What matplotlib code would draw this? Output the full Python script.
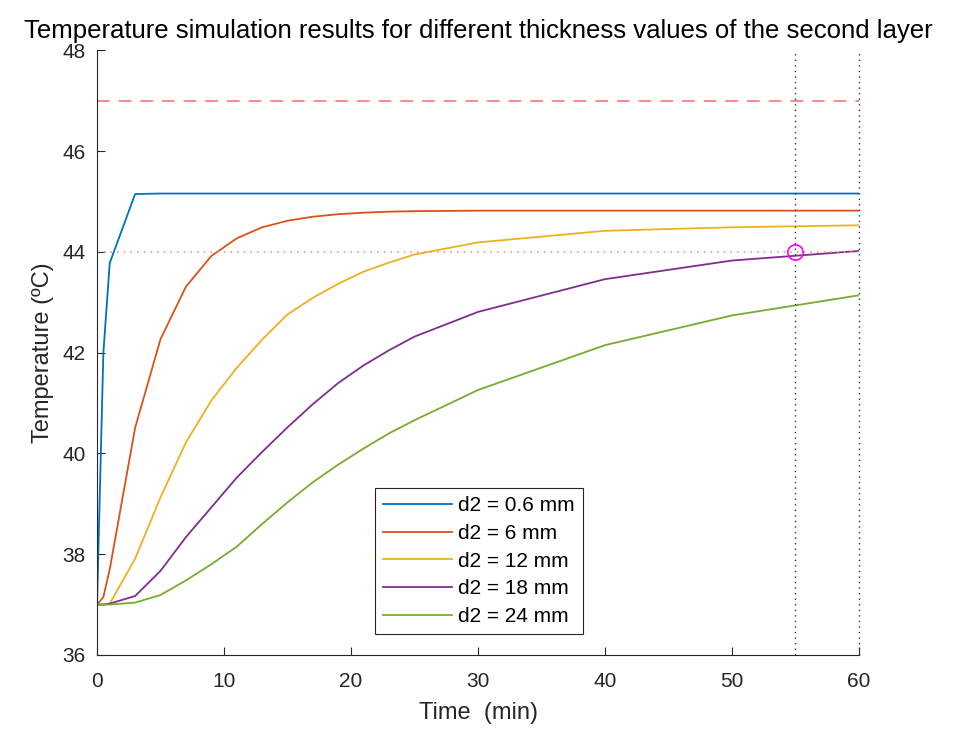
import matplotlib
matplotlib.use("Agg")
import matplotlib.pyplot as plt

# ============================================
# DATA
# ============================================
t_fast = [0, 0.5, 1, 3, 5, 10, 20, 30, 40, 50, 60]
T_d06 = [37.0, 42.0, 43.78, 45.15, 45.16, 45.16, 45.16, 45.16, 45.16, 45.16, 45.16]

t_grid = [0, 0.5, 1, 3, 5, 7, 9, 11, 13, 15, 17, 19, 21, 23, 25, 30, 40, 50, 60]
T_d6 = [37.0, 37.15, 37.7, 40.51, 42.27, 43.31, 43.92, 44.27, 44.49, 44.62, 44.70,
        44.75, 44.78, 44.80, 44.81, 44.82, 44.82, 44.82, 44.82]
T_d12 = [37.0, 37.0, 37.02, 37.91, 39.13, 40.22, 41.05, 41.7, 42.26, 42.76, 43.09,
         43.37, 43.61, 43.79, 43.95, 44.19, 44.42, 44.49, 44.53]
T_d18 = [37.0, 37.0, 37.02, 37.17, 37.67, 38.34, 38.93, 39.52, 40.03, 40.52, 40.98,
         41.40, 41.75, 42.05, 42.32, 42.81, 43.46, 43.83, 44.02]
T_d24 = [37.0, 37.0, 37.0, 37.04, 37.19, 37.48, 37.8, 38.15, 38.6, 39.03, 39.43,
         39.78, 40.1, 40.4, 40.66, 41.26, 42.15, 42.74, 43.14]

labels = ["d2 = 0.6 mm", "d2 = 6 mm", "d2 = 12 mm", "d2 = 18 mm", "d2 = 24 mm"]
colors = ["#0072BD", "#D95319", "#EDB120", "#7E2F8E", "#77AC30"]

limit_temp = 47
target_temp = 44
target_time = 55
end_time = 60

# ============================================
# PLOT
# ============================================
plt.rcParams['font.family'] = ['Liberation Sans', 'DejaVu Sans']
axis_color = "#262626"

fig = plt.figure(figsize=(9.54, 7.4), dpi=100)
ax = fig.add_axes([0.1017, 0.1149, 0.7987, 0.8169])

series = [(t_fast, T_d06), (t_grid, T_d6), (t_grid, T_d12), (t_grid, T_d18), (t_grid, T_d24)]
for (tt, TT), lab, col in zip(series, labels, colors):
    ax.plot(tt, TT, color=col, linewidth=1.3, label=lab)

ax.axhline(limit_temp, color="#FF7F7F", linestyle=(0, (7, 5)), linewidth=1.3)
ax.axhline(target_temp, color="#FF9090", linestyle=(0, (1, 3)), linewidth=1.2)
ax.axvline(target_time, color="#333333", linestyle=(0, (1, 3)), linewidth=1.0)
ax.axvline(end_time, color="#333333", linestyle=(0, (1, 3)), linewidth=1.0, clip_on=False)
ax.plot([target_time], [target_temp], marker='o', markersize=11, markerfacecolor='none',
        markeredgecolor='#FF00FF', markeredgewidth=1.2, linestyle='none')

ax.set_xlim(0, 60)
ax.set_ylim(36, 48)
ax.set_xticks(range(0, 61, 10))
ax.set_yticks(range(36, 49, 2))

for side in ['top', 'right']:
    ax.spines[side].set_visible(False)
for side in ['left', 'bottom']:
    ax.spines[side].set_color(axis_color)
    ax.spines[side].set_linewidth(0.8)
ax.tick_params(direction='in', length=6, width=0.8, colors=axis_color, labelsize=15)
ax.tick_params(axis='x', pad=12)
ax.tick_params(axis='y', pad=8)

ax.set_xlabel("Time  (min)", fontsize=17, color=axis_color, labelpad=8)
ax.set_ylabel("Temperature (ºC)", fontsize=17, color=axis_color, labelpad=6)
ax.set_title("Temperature simulation results for different thickness values of the second layer",
             fontsize=18.5, color="black", pad=9)

leg = ax.legend(loc='lower left', bbox_to_anchor=(0.365, 0.034), fontsize=15,
                handlelength=3.3, fancybox=False, framealpha=1, edgecolor=axis_color,
                borderpad=0.4, labelspacing=0.42, handletextpad=0.3, borderaxespad=0)
leg.get_frame().set_linewidth(0.8)

plt.savefig("out.png", dpi=100)
plt.close()
